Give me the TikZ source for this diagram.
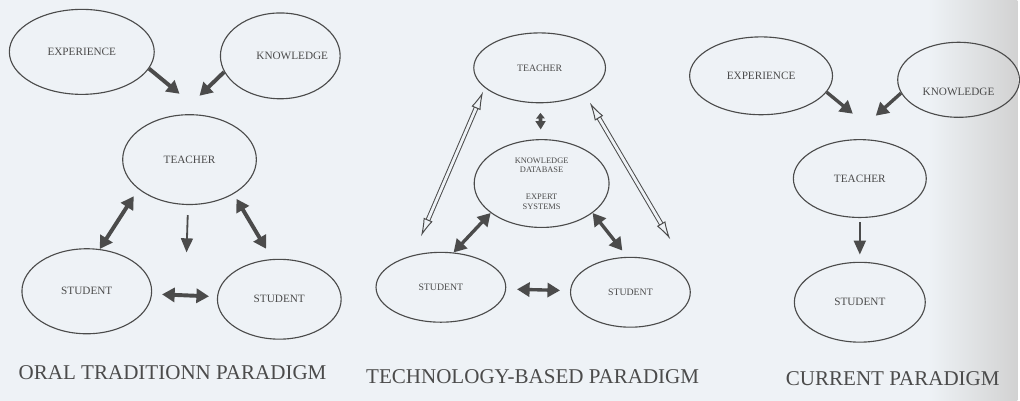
\documentclass[tikz,border=0pt]{standalone}
\usepackage{fontspec}
\setmainfont{Liberation Serif}
\usetikzlibrary{shapes.geometric, arrows.meta}
\definecolor{paper}{RGB}{238,242,246}
\definecolor{ink}{RGB}{75,75,75}
\definecolor{scanshade}{RGB}{210,210,210}

\begin{document}
\begin{tikzpicture}[
    x=0.025cm, y=-0.025cm,
    lbl/.style={text=ink, font=\fontsize{8}{9}\selectfont},
    oval/.style={ellipse, draw=ink, line width=0.8pt, inner sep=0pt, lbl},
    small/.style={font=\fontsize{7}{8}\selectfont},
    tiny/.style={font=\fontsize{6}{6.5}\selectfont, align=center},
    fat/.style={draw=ink, line width=2.8pt, -{Triangle[length=9pt,width=10pt]}},
    fatboth/.style={fat, {Triangle[length=9pt,width=10pt]}-{Triangle[length=9pt,width=10pt]}},
    thin/.style={draw=ink, line width=1.3pt, -{Triangle[length=10pt,width=8.5pt]}},
    hollow/.style={draw=ink, double=paper, double distance=2pt, line width=0.7pt, {Latex[open,length=13pt,width=7pt]}-{Latex[open,length=13pt,width=7pt]}},
    title/.style={text=ink, font=\fontsize{15}{17}\selectfont}
]

% Paper
\fill[paper] (0,0) rectangle (1020,402);
\shade[left color=paper, right color=scanshade] (930,0) rectangle (1020,402);

% Oral tradition
\node[oval, minimum width=3.63cm, minimum height=2.13cm] (exp1) at (82,52) {EXPERIENCE};
\node[oval, minimum width=3cm, minimum height=2.15cm, label={[lbl, xshift=0.3cm]center:KNOWLEDGE}] (know1) at (281,56) {};
\node[oval, minimum width=3.35cm, minimum height=2.25cm] (teach1) at (190,160) {TEACHER};
\node[oval, minimum width=3.25cm, minimum height=2.13cm] (stuL1) at (87,292) {STUDENT};
\node[oval, minimum width=3.1cm, minimum height=2cm] (stuR1) at (280,300) {STUDENT};
\coordinate (in1a) at (180,94);
\coordinate (in1b) at (200,96);
\coordinate (mid1) at (187,253);

\draw[fat] (exp1.-14) -- (in1a);
\draw[fat] (know1.-164) -- (in1b);
\draw[fatboth, shorten <=6pt] (teach1.-150) -- (stuL1.73);
\draw[thin, shorten <=0.25cm] (teach1) -- (mid1);
\draw[fatboth, shorten <=4pt, shorten >=0.3cm] (teach1.-38) -- (stuR1.100);
\draw[fatboth, shorten <=0.25cm, shorten >=0.2cm] (stuL1) -- (stuR1);

% Technology based
\node[oval, small, minimum width=3.3cm, minimum height=1.75cm] (teach2) at (541,68) {TEACHER};
\node[oval, tiny, minimum width=3.38cm, minimum height=2.2cm] (kdb2) at (543,184) {KNOWLEDGE\\DATABASE\\[13pt]EXPERT\\SYSTEMS};
\node[oval, small, minimum width=3.25cm, minimum height=1.75cm] (stuL2) at (442,288) {STUDENT};
\node[oval, small, minimum width=3cm, minimum height=1.75cm] (stuR2) at (632,293) {STUDENT};
\coordinate (outL2) at (422,237);
\coordinate (outR2) at (672,240);

\draw[fatboth, line width=2.6pt, {Triangle[length=4pt,width=6pt]}-{Triangle[length=6pt,width=7pt]}, shorten <=0.24cm, shorten >=0.24cm] (teach2) -- (kdb2);
\draw[hollow, shorten <=0.1cm] (teach2.-160) -- (outL2);
\draw[hollow, shorten <=0.25cm] (teach2.-30) -- (outR2);
\draw[fatboth, line width=2.4pt] (kdb2.-150) -- (stuL2.70);
\draw[fatboth, line width=2.4pt, shorten >=0.2cm] (kdb2.-30) -- (stuR2.95);
\draw[fatboth, line width=2.4pt, shorten <=0.27cm, shorten >=0.25cm] (stuL2) -- (stuR2);

% Current
\node[oval, minimum width=3.58cm, minimum height=1.95cm] (exp3) at (763,76) {EXPERIENCE};
\node[oval, minimum width=3.05cm, minimum height=1.88cm, label={[lbl, yshift=-0.3cm]center:KNOWLEDGE}] (know3) at (961,80) {};
\node[oval, minimum width=3.33cm, minimum height=1.95cm] (teach3) at (862,179) {TEACHER};
\node[oval, minimum width=3.28cm, minimum height=2cm] (stu3) at (862,303) {STUDENT};
\coordinate (in3a) at (855,114);
\coordinate (in3b) at (878,116);

\draw[fat, line width=2.4pt] (exp3.-14) -- (in3a);
\draw[fat, line width=2.4pt] (know3.-167) -- (in3b);
\draw[thin, line width=1.6pt, shorten <=0.1cm, shorten >=0.18cm] (teach3) -- (stu3);

% Titles
\node[title] (title1) at (173,374) {ORAL TRADITIONN PARADIGM};
\node[title] (title2) at (534,378) {TECHNOLOGY-BASED PARADIGM};
\node[title] (title3) at (895,380) {CURRENT PARADIGM};

\end{tikzpicture}
\end{document}
